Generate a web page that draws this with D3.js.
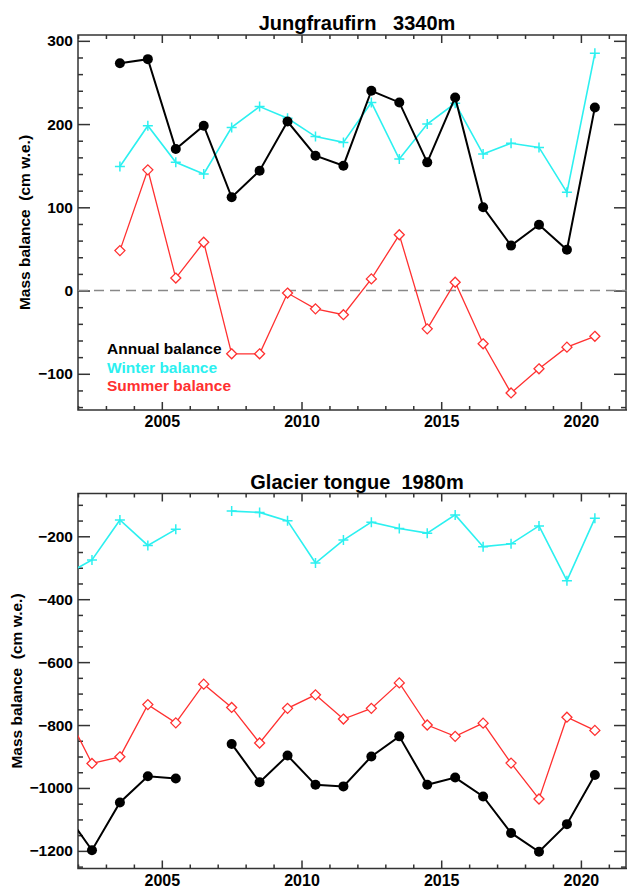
<!DOCTYPE html>
<html>
<head>
<meta charset="utf-8">
<script src="https://cdn.jsdelivr.net/npm/d3@7"></script>
<style>
  body { margin: 0; background: #fff; }
  svg { display: block; font-family: "Liberation Sans", Arial, sans-serif; }
</style>
</head>
<body>
<div id="chart"></div>
<script>
// hydrological years, plotted at mid-year
const jfYears = [2003, 2004, 2005, 2006, 2007, 2008, 2009, 2010, 2011, 2012, 2013, 2014, 2015, 2016, 2017, 2018, 2019, 2020];
const jfAnnual = [273, 278, 170, 198, 112, 144, 203, 162, 150, 240, 226, 154, 232, 100, 54, 79, 49, 220];
const jfWinter = [149, 198, 154, 140, 196, 221, 207, 185, 178, 226, 158, 200, 225, 164, 177, 172, 118, 285];
const jfSummer = [48, 145, 15, 58, -76, -76, -3, -22, -29, 14, 67, -46, 10, -64, -123, -94, -68, -55];

// tongue: 2001 lies left of the axis and is clipped, 2006 missing
const tgYears = [2001, 2002, 2003, 2004, 2005, 2006, 2007, 2008, 2009, 2010, 2011, 2012, 2013, 2014, 2015, 2016, 2017, 2018, 2019, 2020];
const tgAnnual = [-1072, -1198, -1046, -963, -970, null, -860, -982, -897, -990, -995, -900, -836, -990, -967, -1027, -1143, -1203, -1115, -959];
const tgWinter = [-325, -275, -148, -229, -178, null, -120, -124, -151, -285, -212, -155, -175, -190, -132, -233, -224, -167, -341, -143];
const tgSummer = [-748, -922, -901, -735, -793, -670, -744, -857, -747, -704, -781, -747, -666, -800, -836, -794, -921, -1035, -775, -817];

const xTicks = [2005, 2010, 2015, 2020];
const jfYTicks = [-100, 0, 100, 200, 300];
const tgYTicks = [-1200, -1000, -800, -600, -400, -200];

const W = 627, H = 888;
const left = 78, right = 627;
const axisColor = "#333";
const cyan = "#2cf0f0";
const red = "#ff3030";

const svg = d3.select("#chart").append("svg")
    .attr("width", W)
    .attr("height", H);

const x = d3.scaleLinear().domain([2002, 2021.65]).range([left, right]);

function panel(cfg) {
    const y = d3.scaleLinear().domain(cfg.yDomain).range([cfg.bottom, cfg.top]);
    const g = svg.append("g");

    const clipId = "clip-" + cfg.id;
    svg.append("clipPath").attr("id", clipId)
      .append("rect")
        .attr("x", left).attr("y", cfg.top)
        .attr("width", right - left).attr("height", cfg.bottom - cfg.top);

    // minor ticks
    const minorX = d3.range(2002, 2022, 1).filter(v => !xTicks.includes(v));
    const minorY = d3.range(Math.ceil(cfg.yDomain[0] / cfg.yMinor) * cfg.yMinor, cfg.yDomain[1], cfg.yMinor)
        .filter(v => !cfg.yTicks.includes(v));

    const addAxis = (axis, transform) => {
        const a = g.append("g")
            .attr("transform", transform)
            .call(axis);
        a.select(".domain").remove();
        a.selectAll(".tick line").attr("stroke", axisColor).attr("stroke-width", 1.5);
        return a;
    };

    addAxis(d3.axisBottom(x).tickValues(minorX).tickSize(-4).tickFormat(""), `translate(0,${cfg.bottom})`);
    addAxis(d3.axisTop(x).tickValues(minorX).tickSize(-4).tickFormat(""), `translate(0,${cfg.top})`);
    addAxis(d3.axisTop(x).tickValues(xTicks).tickSize(-8).tickFormat(""), `translate(0,${cfg.top})`);
    addAxis(d3.axisLeft(y).tickValues(minorY).tickSize(-5).tickFormat(""), `translate(${left},0)`);
    addAxis(d3.axisRight(y).tickValues(minorY).tickSize(-5).tickFormat(""), `translate(${right - 1},0)`);
    addAxis(d3.axisRight(y).tickValues(cfg.yTicks).tickSize(-12).tickFormat(""), `translate(${right - 1},0)`);

    const xAx = addAxis(d3.axisBottom(x).tickValues(xTicks).tickSize(-8).tickPadding(6).tickFormat(d3.format("d")),
        `translate(0,${cfg.bottom})`);
    xAx.selectAll("text")
        .attr("fill", "#000")
        .style("font-size", "16px")
        .style("font-weight", "bold");

    const yAx = addAxis(d3.axisLeft(y).tickValues(cfg.yTicks).tickSize(-12).tickPadding(5)
        .tickFormat(d => d < 0 ? "\u2212" + Math.abs(d) : d), `translate(${left},0)`);
    yAx.selectAll("text")
        .attr("fill", "#000")
        .style("font-size", "15.5px")
        .style("font-weight", "bold");

    // frame
    g.append("path")
        .attr("d", `M${right},${cfg.top}H${left}V${cfg.bottom}H${right}`)
        .attr("fill", "none")
        .attr("stroke", axisColor)
        .attr("stroke-width", 1.5);
    g.append("line")
        .attr("x1", right - 1).attr("x2", right - 1)
        .attr("y1", cfg.top).attr("y2", cfg.bottom)
        .attr("stroke", axisColor).attr("stroke-width", 1.5);

    // title
    svg.append("text")
        .attr("x", 357)
        .attr("y", cfg.top - 5)
        .attr("text-anchor", "middle")
        .style("font-size", "20px")
        .style("font-weight", "bold")
        .style("white-space", "pre")
        .text(cfg.title);

    // y label
    svg.append("text")
        .attr("transform", `translate(${cfg.labelX},${(cfg.top + cfg.bottom) / 2}) rotate(-90)`)
        .attr("text-anchor", "middle")
        .style("font-size", "15.5px")
        .style("font-weight", "bold")
        .style("white-space", "pre")
        .text("Mass balance  (cm w.e.)");

    const plot = svg.append("g").attr("clip-path", `url(#${clipId})`);

    if (cfg.zeroLine) {
        plot.append("line")
            .attr("x1", left).attr("x2", right)
            .attr("y1", y(0)).attr("y2", y(0))
            .attr("stroke", "#888")
            .attr("stroke-width", 1.5)
            .attr("stroke-dasharray", "10,6");
    }

    const line = d3.line()
        .defined(d => d[1] !== null)
        .x(d => x(d[0] + 0.5))
        .y(d => y(d[1]));

    const series = [
        { vals: cfg.summer, color: red, width: 1.3, marker: "diamond" },
        { vals: cfg.winter, color: cyan, width: 1.6, marker: "plus" },
        { vals: cfg.annual, color: "#000", width: 2, marker: "dot" }
    ];

    series.forEach(s => {
        const pts = cfg.years.map((yr, i) => [yr, s.vals[i]]);
        plot.append("path")
            .datum(pts)
            .attr("fill", "none")
            .attr("stroke", s.color)
            .attr("stroke-width", s.width)
            .attr("d", line);

        const valid = pts.filter(d => d[1] !== null);
        if (s.marker === "dot") {
            plot.selectAll(null).data(valid).enter().append("circle")
                .attr("cx", d => x(d[0] + 0.5))
                .attr("cy", d => y(d[1]))
                .attr("r", 5)
                .attr("fill", "#000");
        } else if (s.marker === "plus") {
            plot.selectAll(null).data(valid).enter().append("path")
                .attr("d", d => {
                    const px = x(d[0] + 0.5), py = y(d[1]);
                    return `M${px - 5},${py}H${px + 5}M${px},${py - 5}V${py + 5}`;
                })
                .attr("stroke", s.color)
                .attr("stroke-width", 1.5);
        } else {
            plot.selectAll(null).data(valid).enter().append("path")
                .attr("d", d => {
                    const px = x(d[0] + 0.5), py = y(d[1]);
                    return `M${px},${py - 5}L${px + 5},${py}L${px},${py + 5}L${px - 5},${py}Z`;
                })
                .attr("fill", "#fff")
                .attr("stroke", s.color)
                .attr("stroke-width", 1.3);
        }
    });

    return y;
}

panel({
    id: "jf", title: "Jungfraufirn   3340m",
    top: 35, bottom: 410, yDomain: [-143.5, 307], yTicks: jfYTicks, yMinor: 20,
    labelX: 30, zeroLine: true,
    years: jfYears, annual: jfAnnual, winter: jfWinter, summer: jfSummer
});

panel({
    id: "tg", title: "Glacier tongue  1980m",
    top: 493.5, bottom: 868.5, yDomain: [-1256, -64], yTicks: tgYTicks, yMinor: 50,
    labelX: 22, zeroLine: false,
    years: tgYears, annual: tgAnnual, winter: tgWinter, summer: tgSummer
});

// legend
const legendItems = [
    { name: "Annual balance", color: "#000" },
    { name: "Winter balance", color: cyan },
    { name: "Summer balance", color: red }
];
svg.selectAll(".legend").data(legendItems).enter().append("text")
    .attr("class", "legend")
    .attr("x", 107)
    .attr("y", (d, i) => 354 + i * 18.5)
    .attr("fill", d => d.color)
    .style("font-size", "15.5px")
    .style("font-weight", "bold")
    .text(d => d.name);
</script>
</body>
</html>
